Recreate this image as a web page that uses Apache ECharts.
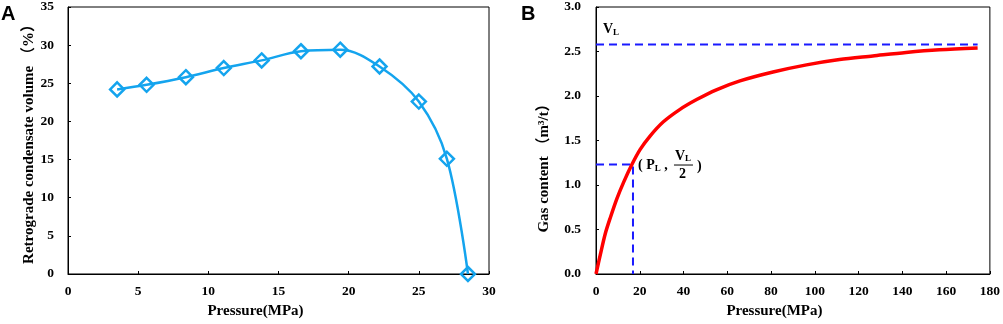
<!DOCTYPE html>
<html>
<head>
<meta charset="utf-8">
<script src="https://cdn.jsdelivr.net/npm/echarts@6.0.0/dist/echarts.min.js"></script>
<style>
    html, body { margin: 0; padding: 0; background: #fff; }
    #chart { width: 1003px; height: 324px; }
</style>
</head>
<body>
<div id="chart"></div>
<script>
// 圖A：反凝析液量
const pressureA = [3.5, 5.6, 8.4, 11.1, 13.8, 16.6, 19.4, 22.2, 25.0, 27.0, 28.5];
const condensateA = [24.2, 24.8, 25.8, 27.0, 28.0, 29.2, 29.4, 27.2, 22.6, 15.1, 0];

// 圖B：吸附曲線（讀自圖片）
const pressureB = [0, 2, 4.2, 6.5, 9.6, 12.6, 16.4, 20.2, 24.7, 30.8, 38.4, 46, 55, 65.8, 80.9, 96.2, 111.3, 126.5, 141.7, 156.9, 174.4];
const gasB = [0, 0.22, 0.45, 0.63, 0.85, 1.03, 1.23, 1.40, 1.55, 1.71, 1.85, 1.96, 2.07, 2.17, 2.27, 2.35, 2.41, 2.45, 2.49, 2.52, 2.54];

// 參考線
const VL = 2.58;
const PL = 16.9;
const halfVL = 1.23;
const pMaxB = 174.4;

const serif = '"Liberation Serif", "Times New Roman", "Noto Sans CJK SC", serif';
const blueA = '#14a4ee';

const axisCommon = {
    axisLine: { lineStyle: { color: '#000', width: 1 } },
    axisTick: { inside: true, length: 3, lineStyle: { color: '#000' } },
    splitLine: { show: false },
    nameLocation: 'middle'
};
const labelStyle = { color: '#000', fontFamily: serif, fontWeight: 'bold', fontSize: 13.5 };
const nameStyle = { color: '#000', fontFamily: serif, fontWeight: 'bold', fontSize: 15 };

const chart = echarts.init(document.getElementById('chart'));
chart.setOption({
    animation: false,
    grid: [
        { left: 68, right: 514, top: 7, bottom: 48, show: true, borderColor: '#000', borderWidth: 1 },
        { left: 596, right: 12, top: 7, bottom: 47, show: true, borderColor: '#000', borderWidth: 1 }
    ],
    xAxis: [
        {
            ...axisCommon, type: 'value', gridIndex: 0, min: 0, max: 30, interval: 5,
            axisLabel: { ...labelStyle, margin: 11 },
            name: 'Pressure(MPa)', nameGap: 30,
            nameTextStyle: { ...nameStyle, padding: [0, 46, 0, 0] }
        },
        {
            ...axisCommon, type: 'value', gridIndex: 1, min: 0, max: 180, interval: 20,
            axisLabel: { ...labelStyle, margin: 11 },
            name: 'Pressure(MPa)', nameGap: 30,
            nameTextStyle: { ...nameStyle, padding: [0, 37, 0, 0] }
        }
    ],
    yAxis: [
        {
            ...axisCommon, type: 'value', gridIndex: 0, min: 0, max: 35, interval: 5,
            axisLabel: { ...labelStyle, margin: 14 },
            name: 'Retrograde condensate volume （%）', nameGap: 31,
            nameTextStyle: { ...nameStyle }
        },
        {
            ...axisCommon, type: 'value', gridIndex: 1, min: 0, max: 3, interval: 0.5,
            axisLabel: { ...labelStyle, margin: 15, formatter: v => v.toFixed(1) },
            name: 'Gas content （m³/t）', nameGap: 44,
            nameTextStyle: { ...nameStyle, padding: [0, 48, 0, 0] }
        }
    ],
    series: [
        {
            type: 'line', xAxisIndex: 0, yAxisIndex: 0,
            data: pressureA.map((p, i) => [p, condensateA[i]]),
            smooth: 0.35,
            symbol: 'diamond', symbolSize: 14,
            lineStyle: { color: blueA, width: 2.5 },
            itemStyle: { color: 'rgba(0,0,0,0)', borderColor: blueA, borderWidth: 2.5 }
        },
        {
            type: 'line', xAxisIndex: 1, yAxisIndex: 1,
            data: [[0, VL], [pMaxB, VL]],
            symbol: 'none',
            lineStyle: { color: '#1a1aff', width: 2, type: [8, 5] }
        },
        {
            type: 'line', xAxisIndex: 1, yAxisIndex: 1,
            data: [[0, halfVL], [PL, halfVL], [PL, 0]],
            symbol: 'none',
            lineStyle: { color: '#1a1aff', width: 2, type: [8, 5] }
        },
        {
            type: 'line', xAxisIndex: 1, yAxisIndex: 1,
            data: pressureB.map((p, i) => [p, gasB[i]]),
            smooth: 0.3,
            symbol: 'none',
            lineStyle: { color: '#ff0000', width: 3.5 }
        }
    ]
});

// 標註（依座標換算位置）
const rich = {
    n: { fontFamily: serif, fontWeight: 'bold', fontSize: 14, color: '#000' },
    s: { fontFamily: serif, fontWeight: 'bold', fontSize: 9, color: '#000', padding: [6, 0, 0, 0] }
};
const vlPos = chart.convertToPixel({ gridIndex: 1 }, [0, VL]);
const plPos = chart.convertToPixel({ gridIndex: 1 }, [PL, halfVL]);

chart.setOption({
    graphic: [
        { type: 'text', left: 1, top: 4, style: { text: 'A', fontFamily: '"Liberation Sans", Arial, sans-serif', fontWeight: 'bold', fontSize: 20, fill: '#000' } },
        { type: 'text', left: 521, top: 4, style: { text: 'B', fontFamily: '"Liberation Sans", Arial, sans-serif', fontWeight: 'bold', fontSize: 20, fill: '#000' } },
        { type: 'text', x: vlPos[0] + 7, y: vlPos[1] - 7, style: { text: '{n|V}{s|L}', rich, verticalAlign: 'bottom' } },
        { type: 'text', x: plPos[0] + 5, y: plPos[1] + 1, style: { text: '{n|( P}{s|L}{n| ,}', rich, verticalAlign: 'middle' } },
        { type: 'text', x: plPos[0] + 42, y: plPos[1] - 1, style: { text: '{n|V}{s|L}', rich, verticalAlign: 'bottom' } },
        { type: 'line', shape: { x1: plPos[0] + 41, y1: plPos[1] + 0.5, x2: plPos[0] + 60, y2: plPos[1] + 0.5 }, style: { stroke: '#000', lineWidth: 1 } },
        { type: 'text', x: plPos[0] + 46, y: plPos[1] + 3, style: { text: '2', fontFamily: serif, fontWeight: 'bold', fontSize: 14, fill: '#000', verticalAlign: 'top' } },
        { type: 'text', x: plPos[0] + 64, y: plPos[1] + 2, style: { text: ')', fontFamily: serif, fontWeight: 'bold', fontSize: 14, fill: '#000', verticalAlign: 'middle' } }
    ]
});
</script>
</body>
</html>
